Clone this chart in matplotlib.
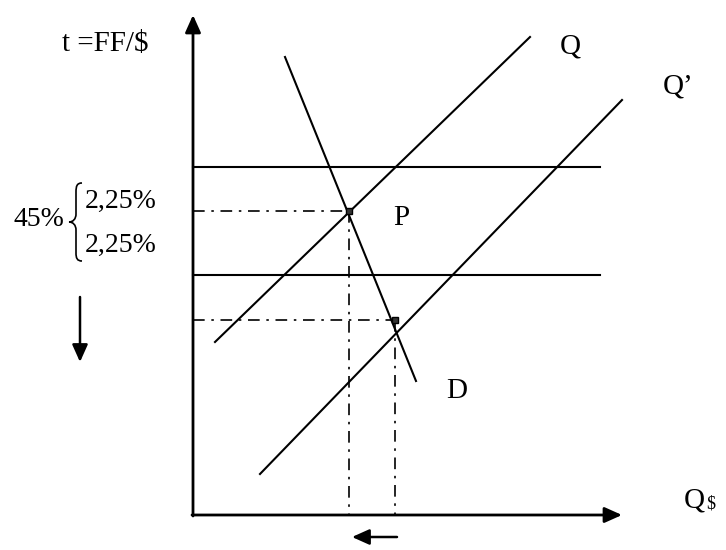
import matplotlib
matplotlib.use("Agg")
import matplotlib.pyplot as plt
from matplotlib.path import Path
from matplotlib.patches import PathPatch

# ---- data (diagram coordinates, pixel-like, y downward) ----
origin = (193, 515)
y_axis_top = 15
x_axis_right = 622
band_upper_y = 167
band_lower_y = 275
band_x_end = 600

Q_x = [215, 530]
Q_y = [342, 37]
Qp_x = [260, 622]
Qp_y = [474, 100]
D_x = [285, 416]
D_y = [57, 381]

P_pt = (349, 211)
P2_pt = (395, 320)

labels = ["t =FF/$", "Q", "Q\u2019", "P", "D", "45%", "2,25%", "2,25%"]

fig = plt.figure(figsize=(7.26, 5.5), dpi=100)
ax = fig.add_axes([0, 0, 1, 1])
ax.set_xlim(0, 726)
ax.set_ylim(550, 0)
ax.axis("off")

serif = ["Liberation Serif", "DejaVu Serif"]
k = "black"

def arrow(tail, tip, lw=1.8):
    ax.annotate("", xy=tip, xytext=tail,
                arrowprops=dict(arrowstyle="-|>,head_length=1.05,head_width=0.47",
                                lw=lw, color=k, shrinkA=0, shrinkB=0,
                                mutation_scale=10))

# axes
arrow((origin[0], origin[1] + 1), (origin[0], y_axis_top), lw=2.0)
arrow((origin[0] - 1, origin[1]), (x_axis_right, origin[1]), lw=2.0)

# band lines
ax.plot([origin[0], band_x_end], [band_upper_y, band_upper_y], color=k, lw=1.5)
ax.plot([origin[0], band_x_end], [band_lower_y, band_lower_y], color=k, lw=1.5)

# supply/demand lines
ax.plot(Q_x, Q_y, color=k, lw=1.5)
ax.plot(Qp_x, Qp_y, color=k, lw=1.5)
ax.plot(D_x, D_y, color=k, lw=1.5)

# dash-dot guides
dd = (0, (7, 4, 1.5, 4))
for (px, py) in (P_pt, P2_pt):
    ax.plot([origin[0], px], [py, py], color=k, lw=1.2, linestyle=dd)
    ax.plot([px, px], [py, origin[1]], color=k, lw=1.2, linestyle=dd)
    ax.plot([px], [py], marker="s", ms=4, color=k, mfc="#333333")

# arrows left side and bottom
arrow((80, 297), (80, 362))
arrow((397, 537), (352, 537))

# brace
verts = [(82, 183), (77, 183), (76, 186), (76, 192),
         (76, 214),
         (76, 219), (73, 222), (69, 222),
         (73, 222), (76, 225), (76, 230),
         (76, 253),
         (76, 258), (77, 261), (82, 261)]
codes = [Path.MOVETO, Path.CURVE4, Path.CURVE4, Path.CURVE4,
         Path.LINETO,
         Path.CURVE4, Path.CURVE4, Path.CURVE4,
         Path.CURVE4, Path.CURVE4, Path.CURVE4,
         Path.LINETO,
         Path.CURVE4, Path.CURVE4, Path.CURVE4]
ax.add_patch(PathPatch(Path(verts, codes), fill=False, lw=1.2, edgecolor=k))

# texts
fs = 21
ax.text(62, 44, labels[0], family=serif, fontsize=fs, ha="left", va="center")
ax.text(560, 47, labels[1], family=serif, fontsize=fs, ha="left", va="center")
ax.text(663, 87, labels[2], family=serif, fontsize=fs, ha="left", va="center")
ax.text(393, 218, labels[3], family=serif, fontsize=fs, ha="left", va="center")
ax.text(446, 391, labels[4], family=serif, fontsize=fs, ha="left", va="center")
ax.text(13, 220, labels[5], family=serif, fontsize=20, ha="left", va="center")
ax.text(85, 201, labels[6], family=serif, fontsize=20, ha="left", va="center")
ax.text(85, 245, labels[7], family=serif, fontsize=20, ha="left", va="center")
ax.text(684, 501, "Q", family=serif, fontsize=fs, ha="left", va="center")
ax.text(706, 504, "$", family=serif, fontsize=13, ha="left", va="center")

fig.savefig("out.png", dpi=100)
